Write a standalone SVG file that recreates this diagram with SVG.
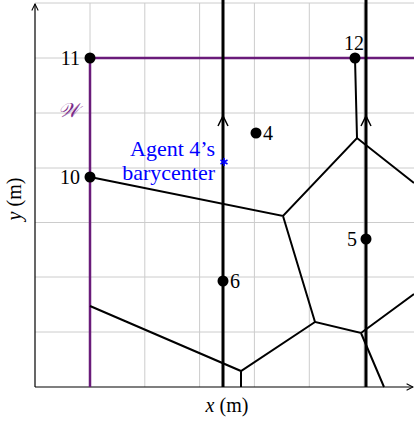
<svg xmlns="http://www.w3.org/2000/svg" width="414" height="421" viewBox="0 0 414 421">
<style>
.grid{stroke:#cccccc;stroke-width:1;fill:none}
.axis{stroke:#000;stroke-width:1.2;fill:none}
.edge{stroke:#000;stroke-width:2;fill:none}
.traj{stroke:#000;stroke-width:3;fill:none}
.ws{stroke:#6a1b7a;stroke-width:2.5;fill:none}
.lbl{font-family:"Liberation Serif",serif;font-size:20px;fill:#000}
.blue{font-family:"Liberation Serif",serif;font-size:22px;fill:#0000ff}
.pt{fill:#000}
</style>
<defs>
<marker id="arr" viewBox="0 0 10 10" refX="9" refY="5" markerWidth="8" markerHeight="8" orient="auto" markerUnits="userSpaceOnUse">
<path d="M1,1 L9,5 L1,9" fill="none" stroke="#000" stroke-width="1.3"/>
</marker>
</defs>
<rect width="414" height="421" fill="#fff"/>
<g id="grid">
<path class="grid" d="M35,3H414M35,58H414M35,113H414M35,168H414M35,222.5H414M35,277H414M35,332H414M90,3V387M144.8,3V387M199.6,3V387M254.4,3V387M309.3,3V387M364.1,3V387"/>
</g>
<g id="axes">
<line class="axis" x1="35" y1="387" x2="35" y2="4" marker-end="url(#arr)"/>
<line class="axis" x1="35" y1="387" x2="413" y2="387" marker-end="url(#arr)"/>
<text class="lbl" x="227" y="412" text-anchor="middle"><tspan font-style="italic">x</tspan> (m)</text>
<text class="lbl" transform="translate(21,199) rotate(-90)" text-anchor="middle"><tspan font-style="italic">y</tspan> (m)</text>
</g>
<g id="connectors">
<path class="ws" d="M90,58H414M90,58V387"/>
<path class="edge" d="M90,177L283,216L357,138L414,183M283,216L315,322L361,333L414,294M361,333L384,387M315,322L241,371L90,306M241,371V387M355,58L357,138"/>
<line class="traj" x1="223" y1="0" x2="223" y2="387"/>
<line class="traj" x1="366" y1="0" x2="366" y2="387"/>
<path d="M218,126L223,116L228,126" fill="none" stroke="#000" stroke-width="1.5"/>
<path d="M361,126L366,116L371,126" fill="none" stroke="#000" stroke-width="1.5"/>
</g>
<g id="node-11"><circle class="pt" cx="90" cy="58" r="5.5"/><text class="lbl" x="80" y="65" text-anchor="end">11</text></g>
<g id="node-12"><circle class="pt" cx="355" cy="58" r="5.5"/><text class="lbl" x="354" y="50" text-anchor="middle">12</text></g>
<g id="node-10"><circle class="pt" cx="90" cy="177" r="5.5"/><text class="lbl" x="80" y="184" text-anchor="end">10</text></g>
<g id="node-4"><circle class="pt" cx="256" cy="133" r="5.5"/><text class="lbl" x="263" y="140">4</text></g>
<g id="node-5"><circle class="pt" cx="366" cy="239" r="5.5"/><text class="lbl" x="357" y="246" text-anchor="end">5</text></g>
<g id="node-6"><circle class="pt" cx="223" cy="281" r="5.5"/><text class="lbl" x="230" y="288">6</text></g>
<g id="barycenter">
<path d="M224,158V166M220.5,160L227.5,164M220.5,164L227.5,160" stroke="#0000ff" stroke-width="1.6" fill="none"/>
<text class="blue" x="215" y="156" text-anchor="end">Agent 4’s</text>
<text class="blue" x="215" y="180" text-anchor="end">barycenter</text>
</g>
<g id="workspace-label">
<text x="68" y="117" text-anchor="middle" font-family="DejaVu Serif,serif" font-style="italic" font-size="20" fill="#7b2a8a">𝒲</text>
</g>
</svg>
